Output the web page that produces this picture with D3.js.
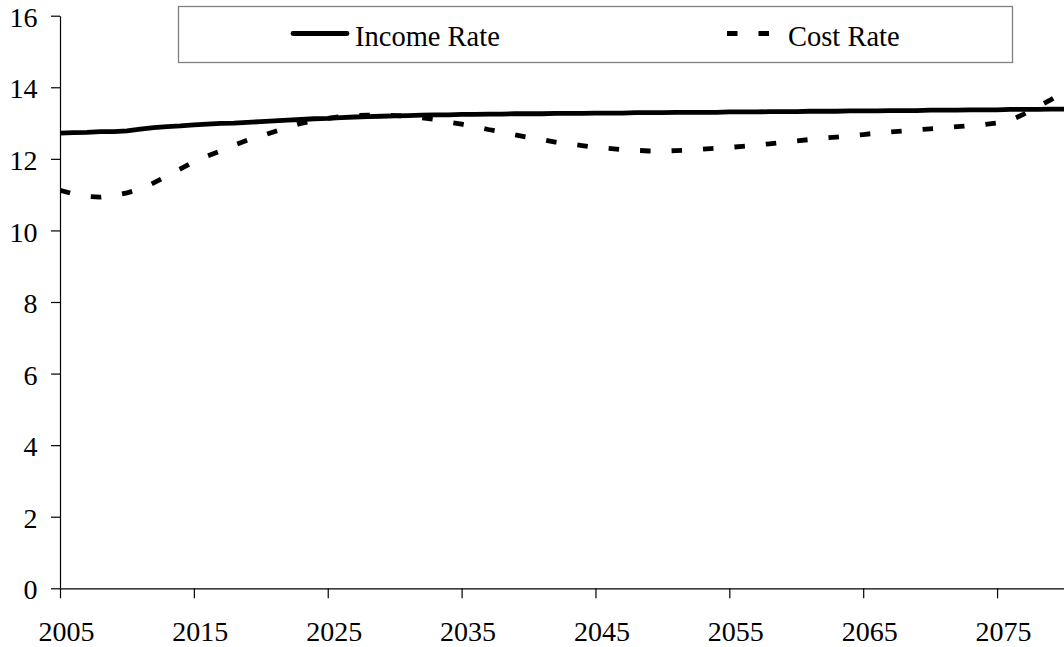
<!DOCTYPE html>
<html>
<head>
<meta charset="utf-8">
<script src="https://cdn.jsdelivr.net/npm/d3@7/dist/d3.min.js"></script>
<style>
  html, body { margin: 0; padding: 0; background: #fff; }
  svg { display: block; }
  text { font-family: "Liberation Serif", "Times New Roman", serif; fill: #000; }
</style>
</head>
<body>
<svg id="chart" width="1064" height="647"></svg>
<script>
const years = d3.range(2005, 2081);
const incomeRate = [
  12.72, 12.73, 12.74, 12.76, 12.76, 12.78, 12.83, 12.87, 12.90, 12.92,
  12.95, 12.97, 12.99, 13.00, 13.02, 13.04, 13.06, 13.08, 13.10, 13.12,
  13.13, 13.15, 13.17, 13.18, 13.19, 13.20, 13.21, 13.22, 13.23, 13.23,
  13.24, 13.24, 13.25, 13.25, 13.26, 13.26, 13.26, 13.27, 13.27, 13.27,
  13.28, 13.28, 13.28, 13.29, 13.29, 13.29, 13.30, 13.30, 13.30, 13.30,
  13.31, 13.31, 13.31, 13.32, 13.32, 13.32, 13.33, 13.33, 13.33, 13.34,
  13.34, 13.34, 13.35, 13.35, 13.35, 13.36, 13.36, 13.36, 13.37, 13.37,
  13.37, 13.38, 13.38, 13.38, 13.39, 13.39
];
const costRate = [
  11.12, 11.02, 10.95, 10.93, 10.97, 11.05, 11.15, 11.33, 11.52, 11.72,
  11.92, 12.08, 12.22, 12.38, 12.52, 12.63, 12.76, 12.88, 12.99, 13.06,
  13.13, 13.18, 13.21, 13.22, 13.22, 13.21, 13.19, 13.15, 13.10, 13.03,
  12.97, 12.90, 12.82, 12.75, 12.67, 12.60, 12.54, 12.47, 12.42, 12.37,
  12.32, 12.29, 12.26, 12.24, 12.22, 12.22, 12.23, 12.25, 12.27, 12.30,
  12.32, 12.35, 12.38, 12.42, 12.46, 12.50, 12.54, 12.58, 12.61, 12.64,
  12.68, 12.72, 12.75, 12.78, 12.81, 12.84, 12.87, 12.90, 12.93, 12.96,
  13.00, 13.08, 13.25, 13.45, 13.65, 13.88
];
const xTicks = [2005, 2015, 2025, 2035, 2045, 2055, 2065, 2075];
const yTicks = [0, 2, 4, 6, 8, 10, 12, 14, 16];
const seriesNames = ["Income Rate", "Cost Rate"];

const svg = d3.select("#chart");
const mLeft = 60, mRight = 1064, mTop = 15.7, mBottom = 588.3;

const x = d3.scaleLinear().domain([2005, 2080]).range([mLeft, mRight]);
const y = d3.scaleLinear().domain([0, 16]).range([mBottom, mTop]);

// Y axis
const yAxis = svg.append("g").attr("transform", `translate(${mLeft},0)`)
  .call(d3.axisLeft(y).tickValues(yTicks).tickSize(9).tickSizeOuter(0).tickPadding(13.5).tickFormat(d3.format("d")));
yAxis.select(".domain").attr("stroke", "#000").attr("stroke-width", 1.2);
yAxis.selectAll(".tick line").attr("stroke", "#000").attr("stroke-width", 1.2);
yAxis.selectAll(".tick text").attr("font-size", 28).attr("dy", "0.38em")
  .style("font-family", "'Liberation Serif', serif");

// X axis
const xAxis = svg.append("g").attr("transform", `translate(0,${mBottom})`)
  .call(d3.axisBottom(x).tickValues(xTicks).tickSize(10).tickSizeOuter(0).tickFormat(d3.format("d")));
xAxis.select(".domain").attr("stroke", "#000").attr("stroke-width", 1.2);
xAxis.selectAll(".tick line").attr("stroke", "#000").attr("stroke-width", 1.2);
xAxis.selectAll(".tick text").attr("font-size", 28).attr("y", 0).attr("dy", 0)
  .attr("transform", "translate(6,52.5)")
  .style("font-family", "'Liberation Serif', serif");
svg.selectAll(".tick text").attr("fill", "#000");

// Lines
svg.append("defs").append("clipPath").attr("id", "clip")
  .append("rect").attr("x", mLeft).attr("y", 0).attr("width", mRight - mLeft).attr("height", mBottom);

const line = d3.line().x((d, i) => x(years[i])).y(d => y(d));
const g = svg.append("g").attr("clip-path", "url(#clip)");

g.append("path").datum(costRate)
  .attr("d", line).attr("fill", "none").attr("stroke", "#000")
  .attr("stroke-width", 4.8).attr("stroke-dasharray", "10.5,21").attr("stroke-linecap", "butt");

g.append("path").datum(incomeRate)
  .attr("d", line).attr("fill", "none").attr("stroke", "#000")
  .attr("stroke-width", 4.8).attr("stroke-linecap", "round").attr("stroke-linejoin", "round");

// Legend
const lg = svg.append("g");
lg.append("rect").attr("x", 178.5).attr("y", 6.5).attr("width", 834).attr("height", 56)
  .attr("fill", "#fff").attr("stroke", "#808080").attr("stroke-width", 1.3);
lg.append("line").attr("x1", 293).attr("x2", 347).attr("y1", 33.5).attr("y2", 33.5)
  .attr("stroke", "#000").attr("stroke-width", 4.8).attr("stroke-linecap", "round");
lg.append("text").attr("x", 355).attr("y", 45.5).attr("font-size", 28.5).text(seriesNames[0]);
lg.append("line").attr("x1", 727).attr("x2", 769.5).attr("y1", 33.5).attr("y2", 33.5)
  .attr("stroke", "#000").attr("stroke-width", 4.8).attr("stroke-dasharray", "10.5,21");
lg.append("text").attr("x", 788).attr("y", 45.5).attr("font-size", 28.5).text(seriesNames[1]);
</script>
</body>
</html>
